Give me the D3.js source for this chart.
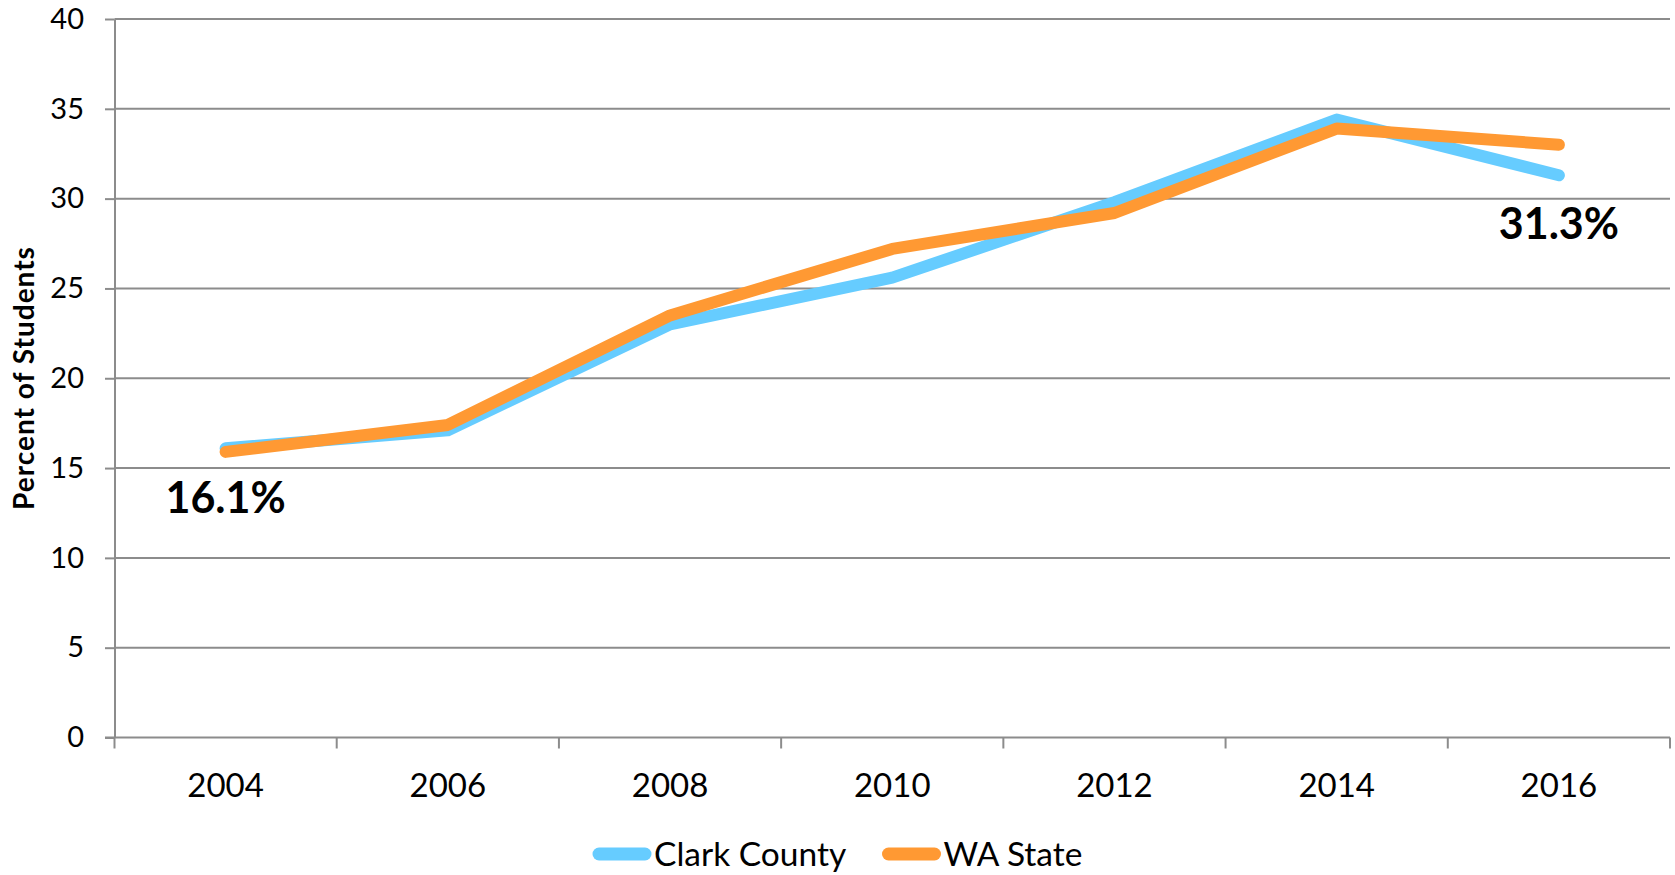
<!DOCTYPE html>
<html>
<head>
<meta charset="utf-8">
<script src="https://cdn.jsdelivr.net/npm/d3@7"></script>
<style>
  body { margin: 0; background: #fff; }
  svg { display: block; font-family: Lato, "Open Sans", sans-serif; }
</style>
</head>
<body>
<svg id="chart" width="1675" height="875"></svg>
<script>
// chart data
var years = ["2004", "2006", "2008", "2010", "2012", "2014", "2016"];
var clarkCounty = [16.1, 17.1, 23.0, 25.6, 29.8, 34.4, 31.3];
var waState = [15.9, 17.4, 23.5, 27.2, 29.2, 33.9, 33.0];
var seriesNames = ["Clark County", "WA State"];
var yTicks = [0, 5, 10, 15, 20, 25, 30, 35, 40];

function drawChart() {
    var svg = d3.select("#chart"),
        left = 114.5,
        right = 1670,
        top = 19,
        bottom = 737.5;

    var x = d3.scaleBand().domain(years).range([left, right]).padding(0),
        y = d3.scaleLinear().domain([0, 40]).range([bottom, top]);

    var gridColor = "#8c8c8c";
    var colors = ["#66ccff", "#ff9933"];

    // horizontal gridlines
    svg.append("g")
       .selectAll("line")
       .data(yTicks.filter(function(d) { return d > 0; }))
       .enter().append("line")
       .attr("x1", left)
       .attr("x2", right)
       .attr("y1", function(d) { return y(d); })
       .attr("y2", function(d) { return y(d); })
       .attr("stroke", gridColor)
       .attr("stroke-width", 2);

    // y axis
    var yAxis = svg.append("g")
       .attr("transform", "translate(" + left + ",0)")
       .call(d3.axisLeft(y).tickValues(yTicks).tickSize(9.5).tickPadding(21).tickSizeOuter(0));
    yAxis.select(".domain").attr("stroke", gridColor).attr("stroke-width", 2);
    yAxis.selectAll(".tick line").attr("stroke", gridColor).attr("stroke-width", 2);
    yAxis.selectAll(".tick text")
         .attr("font-size", "29px")
         .attr("font-family", "Lato, sans-serif")
         .attr("fill", "#000");

    // x axis line + ticks between categories
    svg.append("line")
       .attr("x1", left - 9.5)
       .attr("x2", right)
       .attr("y1", bottom)
       .attr("y2", bottom)
       .attr("stroke", gridColor)
       .attr("stroke-width", 2);

    var boundaries = years.map(function(d) { return x(d); }).concat([x.range()[1]]);
    svg.append("g")
       .selectAll("line")
       .data(boundaries)
       .enter().append("line")
       .attr("x1", function(d) { return d; })
       .attr("x2", function(d) { return d; })
       .attr("y1", bottom)
       .attr("y2", bottom + 11)
       .attr("stroke", gridColor)
       .attr("stroke-width", 2);

    svg.append("g")
       .selectAll("text")
       .data(years)
       .enter().append("text")
       .attr("x", function(d) { return x(d) + x.bandwidth() / 2; })
       .attr("y", 797)
       .attr("text-anchor", "middle")
       .attr("font-size", "33px")
       .text(function(d) { return d; });

    // y axis title
    svg.append("text")
       .attr("transform", "translate(34,378) rotate(-90)")
       .attr("text-anchor", "middle")
       .attr("font-size", "28px")
       .attr("font-weight", "bold")
       .attr("letter-spacing", "1px")
       .text("Percent of Students");

    // lines
    var line = d3.line()
        .x(function(d, i) { return x(years[i]) + x.bandwidth() / 2; })
        .y(function(d) { return y(d); });

    [clarkCounty, waState].forEach(function(series, i) {
        svg.append("path")
           .datum(series)
           .attr("d", line)
           .attr("fill", "none")
           .attr("stroke", colors[i])
           .attr("stroke-width", 12)
           .attr("stroke-linecap", "round")
           .attr("stroke-linejoin", "round");
    });

    // data labels for first / last Clark County values
    var first = 0, last = years.length - 1;
    svg.append("text")
       .attr("x", x(years[first]) + x.bandwidth() / 2)
       .attr("y", 513)
       .attr("text-anchor", "middle")
       .attr("font-size", "43px")
       .attr("font-weight", "bold")
       .text(clarkCounty[first].toFixed(1) + "%");
    svg.append("text")
       .attr("x", x(years[last]) + x.bandwidth() / 2)
       .attr("y", 239)
       .attr("text-anchor", "middle")
       .attr("font-size", "43px")
       .attr("font-weight", "bold")
       .text(clarkCounty[last].toFixed(1) + "%");

    // legend
    var legendX = [599, 888.5];
    var legend = svg.append("g")
       .selectAll("g")
       .data(seriesNames)
       .enter().append("g")
       .attr("transform", function(d, i) { return "translate(" + legendX[i] + ",854)"; });
    legend.append("line")
       .attr("x1", 0)
       .attr("x2", 46)
       .attr("stroke", function(d, i) { return colors[i]; })
       .attr("stroke-width", 13)
       .attr("stroke-linecap", "round");
    legend.append("text")
       .attr("x", 55)
       .attr("y", 11.5)
       .attr("font-size", "33.5px")
       .text(function(d) { return d; });
}

drawChart();
</script>
</body>
</html>
